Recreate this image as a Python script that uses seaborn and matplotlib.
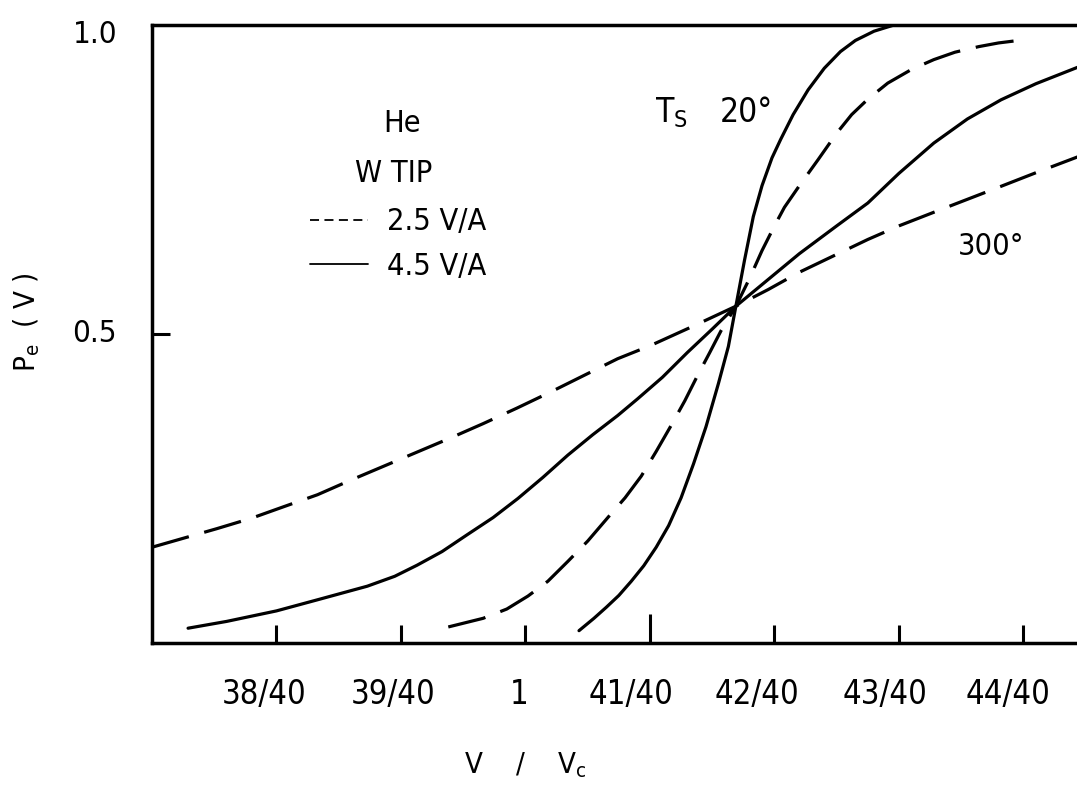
import matplotlib.pyplot as plt
import numpy as np
import pandas as pd
import seaborn as sns
from matplotlib.lines import Line2D
from matplotlib.transforms import ScaledTranslation

# V/Vc is given as n/40, readings taken off the original chart
steep_solid_n = [40.43, 40.55, 40.65, 40.75, 40.85, 40.95, 41.05, 41.15, 41.25,
                 41.35, 41.45, 41.55, 41.63, 41.69, 41.76, 41.83, 41.9, 41.98,
                 42.05, 42.15, 42.27, 42.4, 42.53, 42.65, 42.8, 42.96]
steep_solid_pe = [0.02, 0.04, 0.058, 0.077, 0.10, 0.125, 0.155, 0.19, 0.235,
                  0.29, 0.35, 0.42, 0.48, 0.545, 0.62, 0.69, 0.74, 0.785,
                  0.815, 0.855, 0.895, 0.93, 0.957, 0.975, 0.99, 1.0]

steep_dash_n = [39.38, 39.66, 39.85, 40.02, 40.18, 40.34, 40.5, 40.67, 40.8,
                40.93, 41.05, 41.17, 41.28, 41.38, 41.48, 41.57, 41.69, 41.8,
                41.9, 42.0, 42.08, 42.2, 42.35, 42.5, 42.62, 42.75, 42.91,
                43.1, 43.28, 43.45, 43.64, 43.8, 43.96]
steep_dash_pe = [0.026, 0.04, 0.055, 0.076, 0.10, 0.132, 0.165, 0.205, 0.235,
                 0.27, 0.31, 0.352, 0.392, 0.432, 0.47, 0.505, 0.545, 0.59,
                 0.635, 0.675, 0.705, 0.74, 0.782, 0.825, 0.855, 0.88, 0.906,
                 0.928, 0.944, 0.956, 0.965, 0.971, 0.975]

flat_solid_n = [37.29, 37.6, 38.0, 38.33, 38.73, 38.95, 39.13, 39.33, 39.53,
                39.74, 39.94, 40.14, 40.34, 40.54, 40.74, 40.9, 41.1, 41.3,
                41.5, 41.69, 41.9, 42.2, 42.5, 42.75, 43.0, 43.28, 43.55,
                43.82, 44.1, 44.44]
flat_solid_pe = [0.024, 0.035, 0.052, 0.07, 0.092, 0.108, 0.126, 0.148, 0.175,
                 0.203, 0.234, 0.268, 0.304, 0.337, 0.368, 0.395, 0.43, 0.47,
                 0.508, 0.545, 0.58, 0.63, 0.675, 0.712, 0.76, 0.809, 0.848,
                 0.879, 0.905, 0.932]

flat_dash_n = [37.0, 37.26, 37.52, 37.8, 38.05, 38.33, 38.59, 38.86, 39.13,
               39.4, 39.66, 39.93, 40.2, 40.47, 40.74, 41.0, 41.35, 41.69,
               41.95, 42.2, 42.48, 42.75, 43.0, 43.28, 43.55, 43.82, 44.1, 44.44]
flat_dash_pe = [0.155, 0.17, 0.185, 0.202, 0.22, 0.24, 0.263, 0.286, 0.309,
                0.332, 0.355, 0.38, 0.406, 0.433, 0.46, 0.481, 0.513, 0.545,
                0.572, 0.60, 0.627, 0.653, 0.675, 0.697, 0.718, 0.739, 0.761,
                0.787]

tick_n = [38, 39, 40, 41, 42, 43, 44]
tick_labels = ["38/40", "39/40", "1", "41/40", "42/40", "43/40", "44/40"]

sns.set_theme(style="white")
plt.rcParams["font.family"] = ["DejaVu Sans", "sans-serif"]
plt.rcParams["font.stretch"] = "condensed"
plt.rcParams["mathtext.fontset"] = "dejavusans"
for key in ["text.color", "axes.labelcolor", "xtick.color", "ytick.color"]:
    plt.rcParams[key] = "black"

fig = plt.figure(figsize=(10.77, 7.89), dpi=100)
ax = fig.add_axes([0.1411, 0.185, 0.8589, 0.7833])

curves = [
    (steep_solid_n, steep_solid_pe, "-"),
    (steep_dash_n, steep_dash_pe, (0, (12, 5))),
    (flat_solid_n, flat_solid_pe, "-"),
    (flat_dash_n, flat_dash_pe, (0, (12, 5))),
]
for n, pe, ls in curves:
    df = pd.DataFrame({"v": np.array(n) / 40, "pe": pe})
    sns.lineplot(data=df, x="v", y="pe", ax=ax, color="black", lw=2.3,
                 linestyle=ls, estimator=None, sort=False)

ax.set_xlim(37 / 40, 44.43 / 40)
ax.set_ylim(0, 1)

ax.set_xticks(np.array(tick_n) / 40)
ax.set_xticklabels(tick_labels, fontsize=23.5)
ax.set_yticks([0.5, 1.0])
ax.set_yticklabels(["0.5", "1.0"], fontsize=22.5)
ax.tick_params(axis="x", bottom=True, direction="in", length=13, width=2.2, pad=25)
ax.tick_params(axis="y", left=True, direction="in", length=13, width=2.2, pad=25)
ax.xaxis.get_major_ticks()[3].tick1line.set_markersize(21)
ax.yaxis.get_major_ticks()[1].tick1line.set_visible(False)

# typed labels sit a little left of their tick marks
x_shift_px = [-12, -8, -6, -19, -18, -14, -15]
for lab, dx in zip(ax.get_xticklabels(), x_shift_px):
    lab.set_transform(lab.get_transform()
                      + ScaledTranslation(dx / 100, 0, fig.dpi_scale_trans))
for lab, dy in zip(ax.get_yticklabels(), [4, -6]):
    lab.set_transform(lab.get_transform()
                      + ScaledTranslation(0, dy / 100, fig.dpi_scale_trans))

for side in ["left", "top", "bottom"]:
    ax.spines[side].set_linewidth(2.5)
    ax.spines[side].set_color("black")
ax.spines["right"].set_visible(False)

ax.set_xlabel(r"V    /    V$_\mathrm{c}$", fontsize=21)
ax.xaxis.label.set_va("baseline")
ax.xaxis.set_label_coords(0.403, -0.21)
ax.set_ylabel(r"P$_\mathrm{e}$  ( V )", fontsize=21)
ax.yaxis.label.set_va("center")
ax.yaxis.set_label_coords(-0.135, 0.519)

ax.text(0.27, 0.841, "He", transform=ax.transAxes, fontsize=22,
        ha="center", va="center")
ax.text(0.261, 0.759, "W TIP", transform=ax.transAxes, fontsize=22,
        ha="center", va="center")
ax.text(0.544, 0.843, r"T$_\mathrm{S}$", transform=ax.transAxes, fontsize=24,
        ha="left", va="baseline")
ax.text(0.614, 0.843, "20°", transform=ax.transAxes, fontsize=24,
        ha="left", va="baseline")
ax.text(0.871, 0.628, "300°", transform=ax.transAxes, fontsize=22,
        ha="left", va="baseline")

handles = [
    Line2D([], [], color="black", lw=1.3, linestyle=(0, (5, 3)), label="2.5 V/A"),
    Line2D([], [], color="black", lw=1.3, linestyle="-", label="4.5 V/A"),
]
ax.legend(handles=handles, loc="upper left", bbox_to_anchor=(0.171, 0.705),
          frameon=False, fontsize=22, handlelength=1.9, handletextpad=0.62,
          labelspacing=0.5, borderpad=0, borderaxespad=0)

fig.savefig("out.png", dpi=100)
